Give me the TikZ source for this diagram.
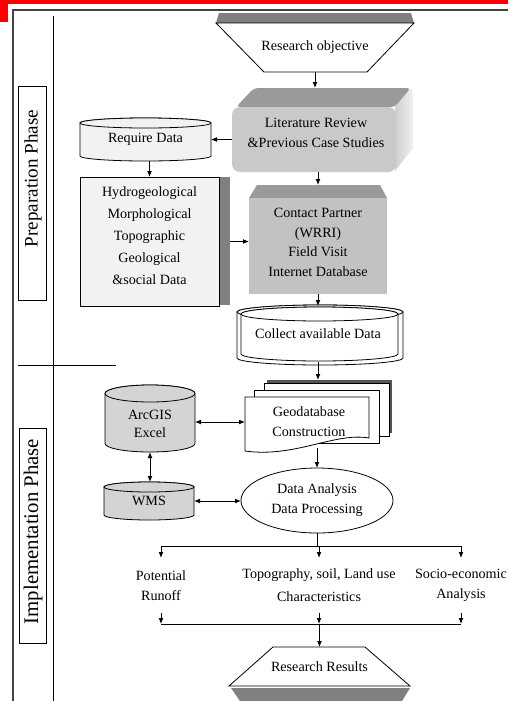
\documentclass[tikz,border=0pt]{standalone}
\usepackage{fontspec}
\setmainfont{Liberation Serif}
\usetikzlibrary{arrows.meta,shapes.geometric,calc}
\definecolor{gA}{HTML}{808080}
\definecolor{gB}{HTML}{D4D4D4}
\definecolor{gC}{HTML}{9A9A9A}
\definecolor{gD}{HTML}{CFCFCF}
\definecolor{gE}{HTML}{F0F0F0}
\definecolor{gF}{HTML}{C9C9C9}
\definecolor{gG}{HTML}{C2C2C2}
\definecolor{gH}{HTML}{555555}
\definecolor{gL}{HTML}{F2F2F2}
\definecolor{frameC}{HTML}{444444}
% cylinder: left x, top y, right x, bottom y, ry (px), style
\newcommand\cylshape[6]{%
  \path[#6] (#1,{#2+#5}) -- (#1,{#4-#5})
    arc[start angle=180,end angle=360,x radius={(#3-#1)*0.375pt},y radius={#5*0.75pt}]
    -- (#3,{#2+#5})
    arc[start angle=0,end angle=180,x radius={(#3-#1)*0.375pt},y radius={#5*0.75pt}]
    -- cycle;
  \path[#6] ({(#1+#3)/2},{#2+#5}) ellipse[x radius={(#3-#1)*0.375pt},y radius={#5*0.75pt}];
}
\begin{document}
\begin{tikzpicture}[x=0.75pt,y=-0.75pt,
  every node/.style={inner sep=0pt,outer sep=0pt},
  txt/.style={font=\fontsize{10.6}{15}\selectfont,align=center},
  ln/.style={line width=0.6pt},
  con/.style={line width=0.6pt,-{Latex[length=4.5pt,width=3.6pt]}},
  dcon/.style={line width=0.6pt,{Latex[length=4.5pt,width=3.6pt]}-{Latex[length=4.5pt,width=3.6pt]}},
  outl/.style={draw=black,line width=0.6pt},
  phasebox/.style={draw=black,line width=0.6pt}]
\useasboundingbox (0,0) rectangle (508,701);
\clip (0,0) rectangle (508,701);

% top red marks and frame
\fill[red] (0,0) rectangle (508,4);
\fill[red] (0,0) rectangle (8,22);
\draw[frameC,line width=0.9pt] (13,701) -- (13,10) -- (508,10);
\draw[line width=0.7pt] (53,16) -- (53,701);
\draw[line width=0.7pt] (18,365) -- (116,365);

% phase labels
\node[phasebox,minimum width=21pt,minimum height=160.5pt] (prep) at (32,193) {};
\node[rotate=90,font=\fontsize{14.3}{16}\selectfont] (prepT) at (33,178.5) {Preparation Phase};
\node[phasebox,minimum width=20.25pt,minimum height=161.25pt] (impl) at (32.5,535.5) {};
\node[rotate=90,font=\fontsize{15.6}{17}\selectfont] (implT) at (33,531.5) {Implementation Phase};

% Research objective
\fill[gA] (219,13) -- (411,13) -- (414,23) -- (216,23) -- cycle;
\draw[outl,fill=white] (216,23) -- (414,23) -- (367,72) -- (264,72) -- cycle;
\node[txt,minimum width=148.5pt,minimum height=36.75pt] (ro) at (315,47.5) {Research objective};

% Literature review (3D bevel)
\fill[gC,rounded corners=3pt] (236,107) -- (254,88) -- (411,88) -- (395,107) -- cycle;
\shade[left color=gD,right color=gE] (395,107) -- (411,88) -- (413,93) -- (413,148) -- (395,171) -- cycle;
\fill[gF,rounded corners=6pt] (232,107) rectangle (396,172);
\node[minimum width=135.75pt,minimum height=63pt] (lit) at (322.5,130) {};
\node[txt] (litT) at (316,133) {Literature Review\\\&Previous Case Studies};

% Require data
\cylshape{80}{118}{211}{161}{5}{outl,fill=gL}
\node[txt,minimum width=98.25pt,minimum height=32.25pt] (rd) at (145.5,139.5) {Require Data};

% Hydrogeological box with shadow
\fill[gA] (219,177) rectangle (230,305);
\node[outl,fill=gL,minimum width=104.25pt,minimum height=96.75pt] (hy) at (149.5,241.5) {};
\node[txt,font=\fontsize{10.6}{16.5}\selectfont] (hyT) at (149.5,236) {Hydrogeological\\Morphological\\Topographic\\Geological\\\&social Data};

% Contact partner
\fill[gC] (257,185) -- (380,185) -- (387,198) -- (249,198) -- cycle;
\fill[gG] (249,198) rectangle (387,294);
\node[minimum width=103.5pt,minimum height=81.75pt] (cp) at (318,239.5) {};
\node[txt,font=\fontsize{10.6}{14.6}\selectfont] (cpT) at (318,242.5) {Contact Partner\\(WRRI)\\Field Visit\\Internet Database};

% Collect available data
\cylshape{237}{305}{403}{365}{7}{outl,fill=white}
\cylshape{241}{307}{398}{361}{7}{outl,fill=white}
\node[txt,minimum width=120pt,minimum height=42pt] (cd) at (318,334) {Collect available Data};

% Geodatabase (multiple documents)
\fill[gH] (267,380) rectangle (392,433);
\draw[outl,fill=white] (264,383) rectangle (389,436);
\draw[outl,fill=white] (254,390) rectangle (379,443);
\draw[outl,fill=white] (245,397) -- (369,397) -- (369,438) .. controls (335,432) and (295,458) .. (245,451) -- cycle;
\node[minimum width=111pt,minimum height=51pt] (gd) at (319,414) {};
\node[txt] (gdT) at (309,422) {Geodatabase\\Construction};

% ArcGIS / Excel
\cylshape{105}{385}{195}{452}{8.5}{outl,fill=gB}
\node[minimum width=67.5pt,minimum height=50.25pt] (ae) at (150,418.5) {};
\node[txt,font=\fontsize{10.6}{13.5}\selectfont] (aeT) at (150,424) {ArcGIS\\Excel};

% WMS
\cylshape{104}{482}{194}{520}{5}{outl,fill=gB}
\node[txt,minimum width=67.5pt,minimum height=28.5pt] (wms) at (149,501) {WMS};

% Data analysis
\node[ellipse,outl,fill=white,txt,minimum width=114pt,minimum height=48.75pt] (da) at (317,500.5) {Data Analysis\\Data Processing};

% Outputs
\node[txt,minimum height=41.25pt] (pot) at (161,585.5) {Potential\\Runoff};
\node[txt,font=\fontsize{10.6}{17.25}\selectfont,minimum height=41.25pt] (topo) at (319,585.5) {Topography, soil, Land use\\Characteristics};
\node[txt,font=\fontsize{10.6}{14.5}\selectfont,minimum height=41.25pt] (soc) at (461,585.5) {Socio-economic\\Analysis};

% Research results
\fill[gA] (231,688) -- (410,688) -- (402,701) -- (240,701) -- cycle;
\draw[outl,fill=white] (273,647) -- (365,647) -- (410,686) -- (229,686) -- cycle;
\node[txt,minimum width=135.75pt,minimum height=29.25pt] (rr) at (319.5,666.5) {Research Results};

% connectors
\draw[con] (ro.south) -- (ro.south |- lit.north);
\draw[con] (lit.west |- rd.east) -- (rd.east);
\draw[con] (hy.north |- rd.south) -- (hy.north);
\draw[con] (cp.north |- lit.south) -- (cp.north);
\draw[con] ($(hy.east)+(11,0)$) -- (hy.east -| cp.west);
\draw[con] (cp.south) -- (cp.south |- cd.north);
\draw[con] (cd.south) -- (cd.south |- gd.north);
\draw[dcon] (ae.east |- gdT) -- (gd.west |- gdT);
\draw[dcon] (ae.south) -- (ae.south |- wms.north);
\draw[dcon] (wms.east) -- (wms.east -| da.west);
\draw[con] (da.north |- gd.south) -- (da.north);

\path (topo.north) ++(0,-12) coordinate (br);
\path (rr.north) ++(0,-23) coordinate (bl);
\draw[ln] (da.south) -- (da.south |- br);
\draw[ln] (pot.north |- br) -- (soc.north |- br);
\draw[con] (pot.north |- br) -- (pot.north);
\draw[con] (topo.north |- br) -- (topo.north);
\draw[con] (soc.north |- br) -- (soc.north);
\draw[con] (pot.south) -- (pot.south |- bl);
\draw[con] (topo.south) -- (topo.south |- bl);
\draw[con] (soc.south) -- (soc.south |- bl);
\draw[ln] (pot.south |- bl) -- (soc.south |- bl);
\draw[con] (bl) -- (rr.north);
\end{tikzpicture}
\end{document}
